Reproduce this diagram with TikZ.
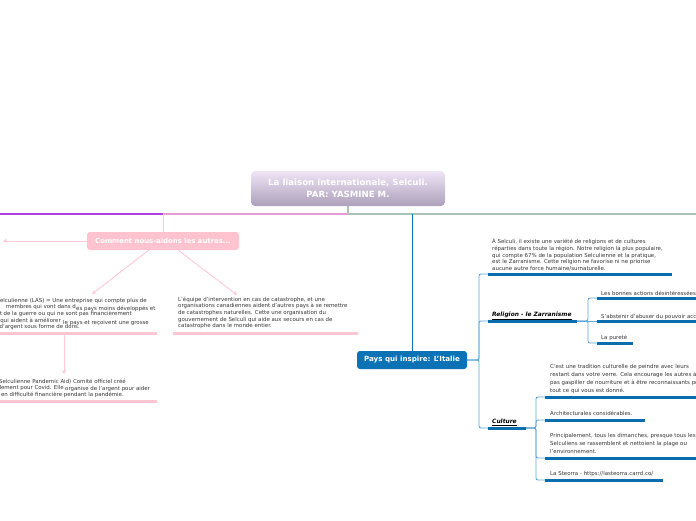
\documentclass[tikz,border=0pt]{standalone}
\usepackage{fontspec}
\setmainfont{DejaVu Sans}
\usetikzlibrary{arrows.meta}
\definecolor{txtgrey}{HTML}{333333}
\definecolor{pinkfill}{HTML}{FFC3CF}
\definecolor{pinkbar}{HTML}{FFC6D2}
\definecolor{pinkthin}{HTML}{FFC8D4}
\definecolor{pinkline}{HTML}{E99AD2}
\definecolor{purpline}{HTML}{B43CE4}
\definecolor{greenline}{HTML}{A9C4B4}
\definecolor{bluefill}{HTML}{0B72B5}
\definecolor{bluebar}{HTML}{0A6DAE}
\definecolor{bluethin}{HTML}{5EA8D8}
\definecolor{roottop}{HTML}{F0E4F7}
\definecolor{rootbot}{HTML}{ACA0BA}
\newcommand\tf{\fontsize{5.45}{6.7}\selectfont}
\begin{document}
\begin{tikzpicture}[x=1pt,y=-1pt,
  txt/.style={inner sep=0pt, anchor=north west, align=left, text=txtgrey, font=\tf},
  rootbox/.style={rounded corners=4pt, top color=roottop, bottom color=rootbot, text=white, font=\fontsize{8.6}{11.5}\selectfont\bfseries, align=center, minimum width=194pt, minimum height=35pt, inner sep=0pt},
  pinkbox/.style={rounded corners=3pt, fill=pinkfill, text=white, font=\fontsize{6.9}{8}\selectfont\bfseries, minimum width=152pt, minimum height=18pt, inner sep=0pt},
  bluebox/.style={rounded corners=3pt, fill=bluefill, text=white, font=\fontsize{7.1}{8}\selectfont\bfseries, minimum width=110pt, minimum height=18pt, inner sep=0pt},
  pbar/.style={draw=pinkbar, line width=3pt},
  bbar/.style={draw=bluebar, line width=3pt},
  pconn/.style={draw=pinkthin, line width=0.9pt},
  parrow/.style={draw=pinkthin, line width=0.9pt, -{Stealth[length=4pt,width=4pt]}},
  bconn/.style={draw=bluethin, line width=0.9pt, rounded corners=2pt},
  headtxt/.style={inner sep=0pt, anchor=base west, text=black, font=\fontsize{5.9}{7}\selectfont\bfseries\itshape}
]
\useasboundingbox (0,0) rectangle (696,520);
\clip (0,0) rectangle (696,520);

% root
\node[rootbox] (root) at (348,188.5) {La liaison internationale, Selculi.\\PAR: YASMINE M.};
\coordinate (hub) at (348,214);
\coordinate (rend) at (696,214);
\coordinate (pj) at (163,214);
\coordinate (lend) at (0,214);
\coordinate (bj) at (412,214);
\draw[draw=greenline, line width=1.2pt] (root.south) -- (hub) -- (rend);
\draw[draw=pinkline, line width=1.5pt] (hub) -- (pj);
\draw[draw=purpline, line width=1.5pt] (pj) -- (lend);

% left branch
\node[pinkbox] (comment) at (163,241) {Comment nous-aidons les autres...};
\draw[pconn] (pj) -- (comment.north);
\coordinate (larr) at (3,241);
\draw[parrow] (comment.west) -- (larr);
\coordinate (c1) at (149,250);
\coordinate (a1) at (92,294);
\coordinate (c2) at (178,250);
\coordinate (a2) at (237,295);
\draw[parrow] (c1) -- (a1);
\draw[parrow] (c2) -- (a2);

% block 1 (left, clipped)
\node[inner sep=0pt, anchor=base east, text=txtgrey, font=\tf] (l1) at (147,302) {Selculienne (LAS) = Une entreprise qui compte plus de};
\node[inner sep=0pt, anchor=base east, text=txtgrey, font=\tf] (l2a) at (76,308.5) {membres qui vont dans d};
\node[inner sep=0pt, anchor=base west, text=txtgrey, font=\tf] (l2b) at (76,310.5) {es pays moins développés et};
\node[inner sep=0pt, anchor=base east, text=txtgrey, font=\tf] (l3) at (132,315.5) {et de la guerre ou qui ne sont pas financièrement};
\node[inner sep=0pt, anchor=base east, text=txtgrey, font=\tf] (l4a) at (61,322) {qui aident à améliorer};
\node[inner sep=0pt, anchor=base west, text=txtgrey, font=\tf] (l4b) at (63,324) {le pays et reçoivent une grosse};
\node[inner sep=0pt, anchor=base east, text=txtgrey, font=\tf] (l5) at (80,328.5) {d'argent sous forme de dons.};
\coordinate (b1s) at (0,333);
\coordinate (b1e) at (157,333);
\draw[pbar] (b1s) -- (b1e);

% block 2
\node[txt] (t2) at (178,296.5) {L'équipe d'intervention en cas de catastrophe, et une\\organisations canadiennes aident d'autres pays à se remettre\\de catastrophes naturelles. Cette une organisation du\\gouvernement de Selculi qui aide aux secours en cas de\\catastrophe dans le monde entier.};
\coordinate (b2s) at (173,333);
\coordinate (b2e) at (358,333);
\draw[pbar] (b2s) -- (b2e);

% block 3
\coordinate (v1) at (64,334.5);
\coordinate (v2) at (64,374);
\draw[parrow] (v1) -- (v2);
\node[inner sep=0pt, anchor=base east, text=txtgrey, font=\tf] (m1) at (126,383) {(Selculienne Pandemic Aid) Comité officiel créé};
\node[inner sep=0pt, anchor=base east, text=txtgrey, font=\tf] (m2a) at (64,389) {spécialement pour Covid. Elle};
\node[inner sep=0pt, anchor=base west, text=txtgrey, font=\tf] (m2b) at (65,390.5) {organise de l'argent pour aider};
\node[inner sep=0pt, anchor=base east, text=txtgrey, font=\tf] (m3) at (124,396) {les pays en difficulté financière pendant la pandémie.};
\coordinate (b3s) at (0,401);
\coordinate (b3e) at (157,401);
\draw[pbar] (b3s) -- (b3e);

% right branch
\node[bluebox] (pays) at (412,360) {Pays qui inspire: L'Italie};
\draw[draw=bluefill, line width=1pt] (bj) -- (pays.north);

\coordinate (r1s) at (488,274);
\coordinate (r1e) at (672,274);
\coordinate (rels) at (488,321);
\coordinate (rele) at (577,321);
\coordinate (culs) at (488,428);
\coordinate (cule) at (526,428);
\draw[bconn] (pays.east) -- (479,360) |- (r1s);
\draw[bconn] (pays.east) -- (479,360) |- (rels);
\draw[bconn] (pays.east) -- (479,360) |- (culs);
\draw[bbar] (r1s) -- (r1e);
\draw[bbar] (rels) -- (rele);
\draw[bbar] (culs) -- (cule);

\node[txt] (t4) at (492,238.5) {À Selculi, il existe une variété de religions et de cultures\\réparties dans toute la région. Notre religion la plus populaire,\\qui compte 67\% de la population Selculienne et la pratique,\\est le Zarranisme. Cette religion ne favorise ni ne priorise\\aucune autre force humaine/surnaturelle.};

\node[headtxt] (rel) at (492,316.5) {\underline{Religion - le Zarranisme}};
\node[headtxt] (cul) at (492,423.5) {\underline{Culture}};

% religion sub-branches
\coordinate (s1s) at (597,298);
\coordinate (s1e) at (696,298);
\coordinate (s2s) at (597,321);
\coordinate (s2e) at (696,321);
\coordinate (s3s) at (597,343);
\coordinate (s3e) at (633,343);
\draw[bconn] (rele) -- (588,321) |- (s1s);
\draw[bconn] (rele) -- (s2s);
\draw[bconn] (rele) -- (588,321) |- (s3s);
\draw[bbar] (s1s) -- (s1e);
\draw[bbar] (s2s) -- (s2e);
\draw[bbar] (s3s) -- (s3e);
\node[inner sep=0pt, anchor=base west, text=txtgrey, font=\tf] (s1) at (601,295) {Les bonnes actions désintéressées};
\node[inner sep=0pt, anchor=base west, text=txtgrey, font=\tf] (s2) at (601,318) {S'abstenir d'abuser du pouvoir accordé};
\node[inner sep=0pt, anchor=base west, text=txtgrey, font=\tf] (s3) at (601,339.5) {La pureté};

% culture sub-branches
\coordinate (k1s) at (545,397);
\coordinate (k1e) at (696,397);
\coordinate (k2s) at (545,420);
\coordinate (k2e) at (645,420);
\coordinate (k3s) at (545,458);
\coordinate (k3e) at (696,458);
\coordinate (k4s) at (545,480);
\coordinate (k4e) at (663,480);
\draw[bconn] (cule) -- (536,428) |- (k1s);
\draw[bconn] (cule) -- (536,428) |- (k2s);
\draw[bconn] (cule) -- (536,428) |- (k3s);
\draw[bconn] (cule) -- (536,428) |- (k4s);
\draw[bbar] (k1s) -- (k1e);
\draw[bbar] (k2s) -- (k2e);
\draw[bbar] (k3s) -- (k3e);
\draw[bbar] (k4s) -- (k4e);
\node[txt, font=\fontsize{5.45}{8}\selectfont] (k1) at (550,364.5) {C'est une tradition culturelle de peindre avec leurs\\restant dans votre verre. Cela encourage les autres à ne\\pas gaspiller de nourriture et à être reconnaissants pour\\tout ce qui vous est donné.};
\node[inner sep=0pt, anchor=base west, text=txtgrey, font=\tf] (k2) at (550,415) {Architecturales considérables.};
\node[txt, font=\fontsize{5.45}{7.6}\selectfont] (k3) at (550,433.5) {Principalement, tous les dimanches, presque tous les\\Selculiens se rassemblent et nettoient la plage ou\\l'environnement.};
\node[inner sep=0pt, anchor=base west, text=txtgrey, font=\tf] (k4) at (550,475) {La Steorra - https://lasteorra.carrd.co/};
\end{tikzpicture}
\end{document}
